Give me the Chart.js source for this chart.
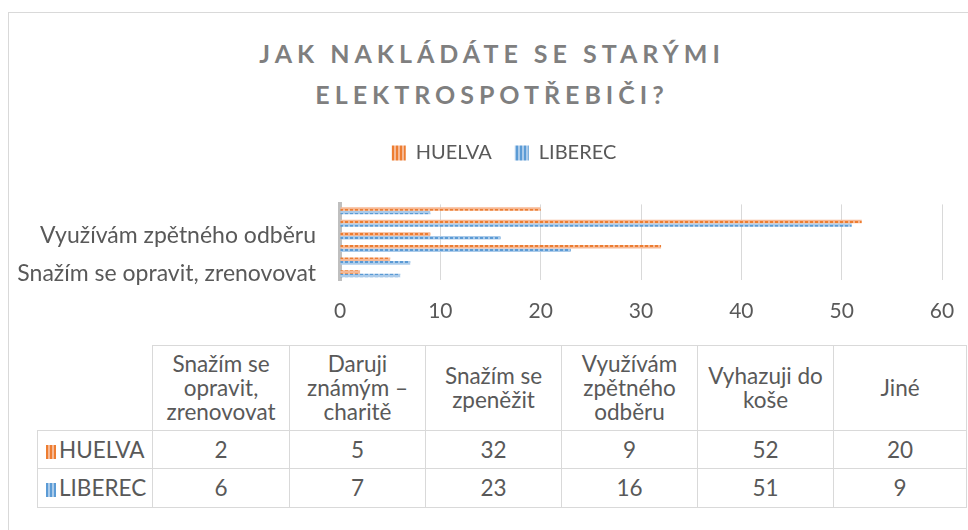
<!DOCTYPE html>
<html>
<head>
<meta charset="utf-8">
<script src="https://cdn.jsdelivr.net/npm/chart.js@4/dist/chart.umd.min.js"></script>
<style>
  html, body { margin: 0; padding: 0; background: #fff; overflow: hidden; }
  body { width: 968px; height: 530px; position: relative; font-family: Lato, sans-serif; }
  .frame { position: absolute; left: 8px; top: 12px; width: 1200px; height: 800px; border: 1.5px solid #d9d9d9; }
  .title {
    position: absolute; left: 16px; top: 33px; width: 952px; text-align: center;
    font: bold 25px Lato, sans-serif; line-height: 41px; letter-spacing: 5px; color: #7f7f7f;
  }
  #chart { position: absolute; left: 0; top: 120px; }
  table {
    position: absolute; left: 37px; top: 345px; border-collapse: collapse; table-layout: fixed;
    font: 22.5px Lato, sans-serif; line-height: 24px; color: #595959;
  }
  td { border: 1.5px solid #d9d9d9; text-align: center; vertical-align: middle; padding: 0 9px; }
  tr.head td { height: 84px; }
  tr.row td { height: 37px; }
  tr.row + tr.row td { height: 38px; }
  td.corner { border-top: none; border-left: none; }
  td.name { text-align: left; padding-left: 8px; padding-right: 0; white-space: nowrap; }
  .key { display: inline-block; width: 10px; height: 14px; margin-right: 3px; vertical-align: -1px; }
</style>
</head>
<body>
<div class="frame"></div>
<div class="title" id="title"></div>
<canvas id="chart" width="968" height="214"></canvas>
<table id="tbl"></table>
<script>
  // data
  const titleLines = ['JAK NAKLÁDÁTE SE STARÝMI', 'ELEKTROSPOTŘEBIČI?'];
  const categories = [
    'Snažím se opravit, zrenovovat',
    'Daruji známým – charitě',
    'Snažím se zpeněžit',
    'Využívám zpětného odběru',
    'Vyhazuji do koše',
    'Jiné'
  ];
  const seriesNames = ['HUELVA', 'LIBEREC'];
  const huelva = [2, 5, 32, 9, 52, 20];
  const liberec = [6, 7, 23, 16, 51, 9];
  const xMax = 60;
  const xStep = 10;

  const colors = {
    HUELVA: { dark: '#ed7d31', light: '#f6b995' },
    LIBEREC: { dark: '#5b9bd5', light: '#abcbea' }
  };

  document.getElementById('title').innerHTML = titleLines.join('<br>');

  /**
   * build a small repeating tile as a canvas pattern
   */
  function makePattern(w, h, draw) {
    const c = document.createElement('canvas');
    c.width = w;
    c.height = h;
    const g = c.getContext('2d');
    draw(g);
    return g.createPattern(c, 'repeat');
  }

  function barPattern(col) {
    return makePattern(5, 4, (g) => {
      g.fillStyle = col.light;
      g.fillRect(0, 0, 5, 4);
      g.fillStyle = col.dark;
      g.fillRect(0, 1, 3, 2);
    });
  }

  function stripePattern(col) {
    return makePattern(4, 4, (g) => {
      g.fillStyle = col.light;
      g.fillRect(0, 0, 4, 4);
      g.fillStyle = col.dark;
      g.fillRect(0, 0, 2, 4);
    });
  }

  // Excel draws the first category at the bottom, so the chart gets reversed copies
  const labelsTopDown = categories.slice().reverse();
  const n = labelsTopDown.length;

  const datasets = [
    { label: seriesNames[0], data: huelva.slice().reverse(), col: colors.HUELVA },
    { label: seriesNames[1], data: liberec.slice().reverse(), col: colors.LIBEREC }
  ].map(d => ({
    label: d.label,
    data: d.data,
    backgroundColor: barPattern(d.col),
    legendFill: stripePattern(d.col),
    borderWidth: 0,
    categoryPercentage: 0.56,
    barPercentage: 1.0
  }));

  const textColor = '#595959';

  // the legend in the original sits a bit right of the canvas centre
  const legendShift = {
    id: 'legendShift',
    afterLayout: (chart) => {
      chart.legend.left += 28;
      chart.legend.right += 28;
    }
  };

  new Chart(document.getElementById('chart'), {
    type: 'bar',
    data: { labels: labelsTopDown, datasets: datasets },
    plugins: [legendShift],
    options: {
      indexAxis: 'y',
      responsive: false,
      animation: false,
      layout: { padding: { left: 10, right: 26, top: 0, bottom: 4 } },
      plugins: {
        tooltip: { enabled: false },
        // empty title used only as a spacer between legend and plot
        title: { display: true, text: '', weight: 500, padding: { top: 0, bottom: 23 }, font: { size: 7 } },
        legend: {
          position: 'top',
          labels: {
            color: textColor,
            font: { family: 'Lato', size: 20 },
            boxWidth: 14,
            boxHeight: 15,
            padding: 23,
            generateLabels: (chart) => chart.data.datasets.map((ds, i) => ({
              text: ds.label,
              fillStyle: ds.legendFill,
              strokeStyle: 'transparent',
              lineWidth: 0,
              fontColor: textColor,
              hidden: false,
              datasetIndex: i
            }))
          }
        }
      },
      scales: {
        x: {
          min: 0,
          max: xMax,
          ticks: { stepSize: xStep, color: textColor, font: { family: 'Lato', size: 21 }, padding: 19 },
          grid: { color: '#d9d9d9', lineWidth: 1, drawTicks: false },
          border: { display: false },
          afterFit: (scale) => {
            scale.height = 50;
            scale.paddingRight = 6;
          }
        },
        y: {
          ticks: {
            color: textColor,
            font: { family: 'Lato', size: 23 },
            padding: 16,
            autoSkip: false,
            callback: function (value, index) {
              return (n - 1 - index) % 3 === 0 ? this.getLabelForValue(value) : '';
            }
          },
          grid: { display: false },
          border: { display: true, color: '#bfbfbf', width: 4 },
          afterFit: (scale) => { scale.width = 330; }
        }
      }
    }
  });

  // data table under the chart
  const tbl = document.getElementById('tbl');
  const widths = [115, 137, 136, 136, 136, 136, 133];
  const colgroup = document.createElement('colgroup');
  widths.forEach(w => {
    const c = document.createElement('col');
    c.style.width = w + 'px';
    colgroup.appendChild(c);
  });
  tbl.appendChild(colgroup);

  const head = document.createElement('tr');
  head.className = 'head';
  head.innerHTML = '<td class="corner"></td>' + categories.map(c => '<td>' + c + '</td>').join('');
  tbl.appendChild(head);

  [[seriesNames[0], huelva, colors.HUELVA], [seriesNames[1], liberec, colors.LIBEREC]].forEach(([name, vals, col]) => {
    const tr = document.createElement('tr');
    tr.className = 'row';
    const key = '<span class="key" style="background: repeating-linear-gradient(90deg, ' +
      col.dark + ' 0 2px, ' + col.light + ' 2px 4px)"></span>';
    tr.innerHTML = '<td class="name">' + key + name + '</td>' +
      vals.map(v => '<td>' + v + '</td>').join('');
    tbl.appendChild(tr);
  });
</script>
</body>
</html>
